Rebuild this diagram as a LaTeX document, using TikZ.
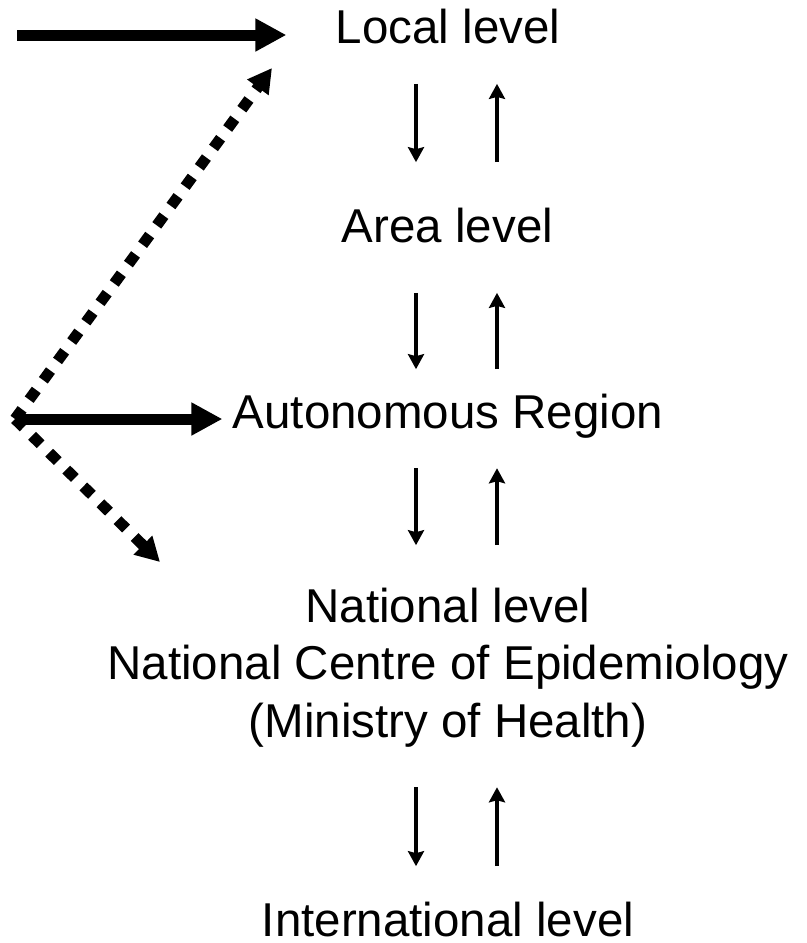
\documentclass[tikz,border=0pt]{standalone}
\usepackage{fontspec}
\setmainfont{Liberation Sans}
\usetikzlibrary{arrows.meta}

\begin{document}
\begin{tikzpicture}[x=0.5pt, y=-0.5pt, font=\fontsize{23.75}{28.75}\selectfont, line join=miter,
		level/.style={inner sep=0pt, anchor=base, align=center},
		flow/.style={line width=5.5pt, -{Triangle[length=15.5pt, width=15.5pt]}},
		spread/.style={line width=5.5pt, dash pattern=on 6pt off 6pt, -{Triangle[length=12pt, width=12.5pt]}},
		relay/.style={line width=2pt, -{Stealth[length=7.5pt, width=8pt, inset=1pt]}}]
		\useasboundingbox (0,0) rectangle (807,943);
		% levels (base of a block = its last line)
		\node[level] (local) at (448,43) {Local level};
		\node[level] (area) at (447.5,242) {Area level};
		\node[level] (auto) at (448,428) {Autonomous Region};
		\node[level] (national) at (448,737) {National level\\National Centre of Epidemiology\\(Ministry of Health)};
		\node[level] (intl) at (448,936) {International level};
		% columns of the small arrows
		\coordinate (down) at (416,0);
		\coordinate (up) at (497,0);
		\foreach \hi/\lo/\a/\b in {local/area/20pt/22.5pt, area/auto/25pt/12pt, auto/national/15pt/21pt, national/intl/20pt/17.5pt}{
			\draw[relay, shorten <=\a, shorten >=\b] (\hi.south -| down) -- (\lo.north -| down);
			\draw[relay, shorten <=\b, shorten >=\a] (\lo.north -| up) -- (\hi.south -| up);
		}
		% left side
		\coordinate (feed) at (17,35);
		\coordinate (hub) at (15,419);
		\coordinate (uptip) at (272,68);
		\coordinate (downtip) at (160,562);
		\draw[flow, shorten >=24.5pt] (feed) -- (feed -| local.west);
		\draw[flow, shorten >=5pt] (hub) -- (hub -| auto.west);
		\draw[spread] (hub) -- (uptip);
		\draw[spread] (hub) -- (downtip);
\end{tikzpicture}
\end{document}
